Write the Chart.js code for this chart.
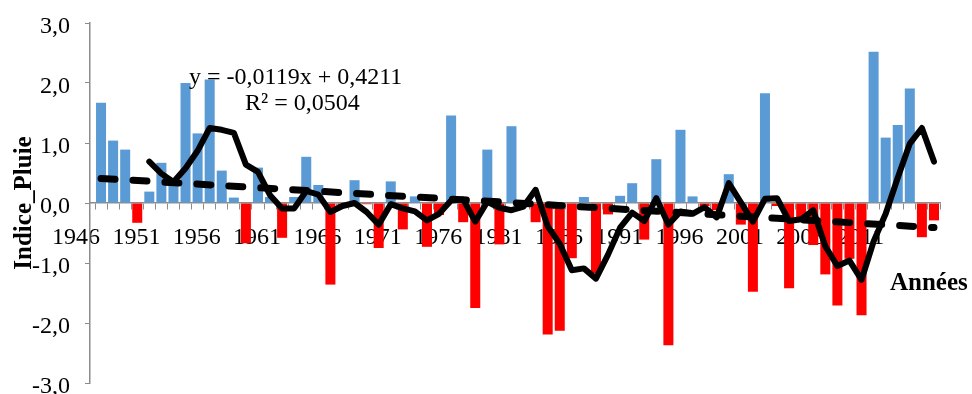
<!DOCTYPE html>
<html>
<head>
<meta charset="utf-8">
<title>Indice Pluie</title>
<script src="https://cdn.jsdelivr.net/npm/chart.js@4.4.1/dist/chart.umd.min.js"></script>
<style>
  html, body { margin: 0; padding: 0; background: #fff; }
  #wrap { width: 972px; height: 394px; position: relative; }
</style>
</head>
<body>
<div id="wrap"><canvas id="rainChart"></canvas></div>
<script>
/* ---------- data ---------- */
const years = [
  "1946","1947","1948","1949","1950","1951","1952","1953","1954","1955",
  "1956","1957","1958","1959","1960","1961","1962","1963","1964","1965",
  "1966","1967","1968","1969","1970","1971","1972","1973","1974","1975",
  "1976","1977","1978","1979","1980","1981","1982","1983","1984","1985",
  "1986","1987","1988","1989","1990","1991","1992","1993","1994","1995",
  "1996","1997","1998","1999","2000","2001","2002","2003","2004","2005",
  "2006","2007","2008","2009","2010","2011","2012","2013","2014","2015"
];

// only every fifth year is labelled on the axis
const tickLabels = ["1946","1951","1956","1961","1966","1971","1976",
                    "1981","1986","1991","1996","2001","2006","2011"];

// rainfall index, one bar per year
const rainIndex = [
   1.67,  1.04,  0.89, -0.33,  0.19,  0.67,  0.35,  2.00,  1.16,  2.06,
   0.54,  0.09, -0.67,  0.59,  0.10, -0.58,  0.10,  0.77,  0.30, -1.36,
  -0.08,  0.38, -0.02, -0.75,  0.36, -0.44,  0.11, -0.73, -0.20,  1.46,
  -0.32, -1.75,  0.89, -0.69,  1.28, -0.05, -0.32, -2.19, -2.13, -0.92,
   0.10, -1.17, -0.19,  0.12,  0.33, -0.61,  0.73, -2.37,  1.22,  0.11,
  -0.05, -0.12,  0.48, -0.36, -1.48,  1.83, -0.05, -1.42, -0.25, -0.70,
  -1.19, -1.71, -0.93, -1.87,  2.52,  1.09,  1.30,  1.91, -0.57, -0.29
];

// 5-year moving average (solid black line)
const movingAvg = [
   null,  null,  null,  null,  0.69,  0.49,  0.35,  0.58,  0.87,  1.25,
   1.22,  1.17,  0.64,  0.52,  0.13, -0.09, -0.09,  0.20,  0.14, -0.15,
  -0.05,  0.00, -0.15, -0.36, -0.02, -0.09, -0.14, -0.29, -0.18,  0.04,
   0.06, -0.31,  0.02, -0.08, -0.12, -0.06,  0.22, -0.39, -0.68, -1.12,
  -1.09, -1.26, -0.86, -0.41, -0.16, -0.30,  0.08, -0.36, -0.14, -0.18,
  -0.07, -0.24,  0.33,  0.01, -0.31,  0.07,  0.08, -0.30, -0.27, -0.12,
  -0.72, -1.05, -0.96, -1.28, -0.64, -0.18,  0.42,  0.99,  1.25,  0.69
];

// linear trend: only both ends, the line spans the gap
const trendEnds = [0.41, -0.41];
const trendLine = years.map((y, i) =>
  i === 0 ? trendEnds[0] : (i === years.length - 1 ? trendEnds[1] : null));

const trendText = ["y = -0,0119x + 0,4211", "R\u00B2 = 0,0504"];
const yTitle = "Indice_Pluie";
const xTitle = "Ann\u00E9es";

/* ---------- look ---------- */
const SERIF = "'Liberation Serif', 'Times New Roman', serif";
const AXIS_GREY = "#8c8c8c";
Chart.defaults.font.family = SERIF;
Chart.defaults.color = "#000";

// first category starts a few px right of the value axis, like the original
const shiftCategories = {
  id: "shiftCategories",
  afterLayout(chart) {
    const x = chart.scales.x;
    x._startPixel = x.left + 5;
    x._length = x._endPixel - x._startPixel;
  }
};

const chartNotes = {
  id: "chartNotes",
  afterDraw(chart) {
    const ctx = chart.ctx;
    ctx.save();
    ctx.fillStyle = "#000";
    ctx.textBaseline = "alphabetic";
    ctx.font = "24px " + SERIF;
    ctx.fillText(trendText[0], 189, 84);
    ctx.fillText(trendText[1], 245, 110);
    ctx.font = "bold 25px " + SERIF;
    ctx.fillText(xTitle, 890, 290);
    ctx.restore();
  }
};

new Chart(document.getElementById("rainChart"), {
  type: "bar",
  data: {
    labels: years,
    datasets: [
      {
        type: "line",
        label: "Moyenne mobile",
        data: movingAvg,
        borderColor: "#000",
        borderWidth: 6,
        borderJoinStyle: "round",
        borderCapStyle: "round",
        pointRadius: 0,
        tension: 0,
        order: 1
      },
      {
        type: "line",
        label: "Tendance",
        data: trendLine,
        borderColor: "#000",
        borderWidth: 7,
        borderDash: [14, 18],
        borderCapStyle: "round",
        pointRadius: 0,
        spanGaps: true,
        order: 2
      },
      {
        label: "Indice Pluie",
        data: rainIndex,
        backgroundColor: (c) => (c.raw >= 0 ? "#5b9bd5" : "#ff0000"),
        barPercentage: 0.83,
        categoryPercentage: 1,
        order: 3
      }
    ]
  },
  options: {
    responsive: true,
    maintainAspectRatio: false,
    animation: false,
    layout: { padding: { left: 0, top: 23, right: 32, bottom: 11 } },
    plugins: {
      legend: { display: false },
      tooltip: { enabled: false }
    },
    scales: {
      x: {
        position: { y: 0 },
        grid: {
          drawOnChartArea: false,
          drawTicks: true,
          tickLength: 6,
          color: AXIS_GREY,
          offset: true
        },
        border: { color: AXIS_GREY, width: 1.5 },
        ticks: {
          autoSkip: false,
          maxRotation: 0,
          minRotation: 0,
          padding: 14,
          labelOffset: -25,
          font: { size: 24 },
          callback: function (val, idx) {
            const lab = years[idx];
            return tickLabels.includes(lab) ? lab : "";
          }
        }
      },
      y: {
        min: -3,
        max: 3,
        grid: {
          drawOnChartArea: false,
          drawTicks: true,
          tickLength: 5,
          color: AXIS_GREY
        },
        border: { color: AXIS_GREY, width: 1.5 },
        ticks: {
          stepSize: 1,
          padding: 15,
          labelOffset: 4,
          font: { size: 24 },
          callback: (v) => v.toFixed(1).replace(".", ",")
        },
        title: {
          display: true,
          text: yTitle,
          font: { size: 25, weight: "bold" },
          padding: { top: 10, bottom: 0 }
        },
        afterFit(scale) {
          scale.width = 90;
          scale.paddingTop = 0;
          scale.paddingBottom = 0;
        }
      }
    }
  },
  plugins: [shiftCategories, chartNotes]
});
</script>
</body>
</html>
